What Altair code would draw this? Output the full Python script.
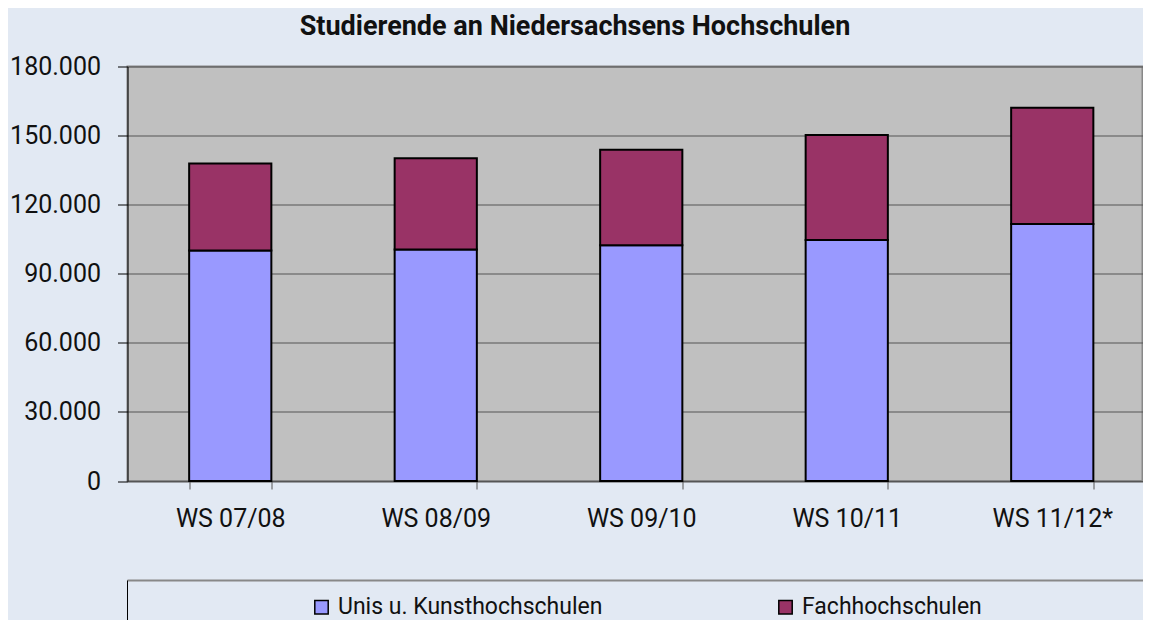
import altair as alt
import pandas as pd

# ---- data ----
categories = ["WS 07/08", "WS 08/09", "WS 09/10", "WS 10/11", "WS 11/12*"]
unis = [100100, 100500, 102400, 104700, 111600]
fh = [37800, 39700, 41400, 45500, 50500]
series = ["Unis u. Kunsthochschulen", "Fachhochschulen"]
colors = ["#9999FF", "#993366"]
y_ticks = [0, 30000, 60000, 90000, 120000, 150000, 180000]
title_text = "Studierende an Niedersachsens Hochschulen"

rows = []
for i, c in enumerate(categories):
    rows.append({"sem": c, "typ": series[0], "wert": unis[i], "ord": 0})
    rows.append({"sem": c, "typ": series[1], "wert": fh[i], "ord": 1})
df = pd.DataFrame(rows)

W = 1015          # visible plot width (page is 1151 wide)
BAND_RANGE = 1027.5  # the original plot runs past the right edge
H = 414.5
FONT = "Roboto"

bars = alt.Chart(df).mark_bar(stroke="black", strokeWidth=2).encode(
    x=alt.X(
        "sem:N", sort=categories, title=None,
        scale=alt.Scale(paddingInner=0.6, paddingOuter=0.3, range=[0, BAND_RANGE]),
        axis=alt.Axis(labelAngle=0, tickBand="extent", labelFontSize=25, labelFont=FONT,
                      labelColor="#111111", labelPadding=17, tickSize=8, tickColor="#555555",
                      domainColor="#555555", domainWidth=1, grid=False),
    ),
    y=alt.Y(
        "wert:Q", stack="zero", title=None,
        scale=alt.Scale(domain=[0, 180000], nice=False),
        axis=alt.Axis(values=y_ticks,
                      labelExpr="replace(format(datum.value, ','), ',', '.')",
                      labelFontSize=25, labelFont=FONT, labelColor="#111111",
                      labelPadding=17, tickSize=10, tickColor="black",
                      domainColor="black", domainWidth=1,
                      gridColor="#555555", gridWidth=1),
    ),
    color=alt.Color(
        "typ:N",
        scale=alt.Scale(domain=series, range=colors),
        legend=alt.Legend(title=None, orient="none", legendX=182.5, legendY=529,
                          direction="horizontal", symbolType="square", symbolSize=180,
                          symbolStrokeColor="black", symbolStrokeWidth=1.5,
                          labelFontSize=23, labelFont=FONT, labelColor="#111111",
                          labelLimit=500, columnPadding=171, padding=0, labelOffset=5),
    ),
    order=alt.Order("ord:Q", sort="ascending"),
)

frame = pd.DataFrame({"k": [0]})
legend_top = alt.Chart(frame).mark_rule(color="#888888", strokeWidth=2).encode(
    x=alt.value(0), x2=alt.value(W + 20), y=alt.value(514)
)
legend_left = alt.Chart(frame).mark_rule(color="black", strokeWidth=1).encode(
    x=alt.value(0), y=alt.value(514), y2=alt.value(600)
)

chart = alt.layer(bars, legend_top, legend_left).properties(
    width=W, height=H,
    title=alt.TitleParams(title_text, fontSize=27, font=FONT, fontWeight="bold",
                          anchor="middle", dx=-60, offset=14, color="#111111"),
    autosize=alt.AutoSizeParams(type="none"),
    padding={"left": 119.5, "top": 58.5, "right": 0, "bottom": 139},
).configure(background="#e2e9f3").configure_view(
    fill="#c0c0c0", stroke="#888888", strokeWidth=2
)

chart.save("out.html", embed_options={"renderer": "svg", "actions": False})
